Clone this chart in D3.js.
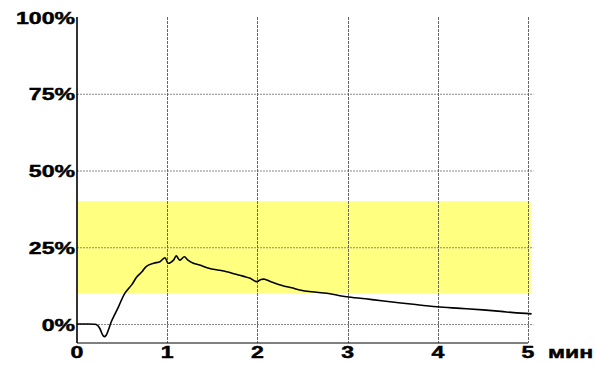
<!DOCTYPE html>
<html><head><meta charset="utf-8">
<script src="https://cdn.jsdelivr.net/npm/d3@7"></script>
<style>body{margin:0;background:#fff}svg{display:block}</style>
</head><body>
<svg id="c" width="596" height="365"></svg>
<script>
const timeMin = [0,0.1,0.2,0.22,0.25,0.28,0.30,0.32,0.35,0.38,0.46,0.53,0.61,0.66,0.72,0.77,0.85,0.92,0.976,1.01,1.07,1.10,1.14,1.19,1.23,1.29,1.36,1.47,1.56,1.66,1.75,1.84,1.92,1.99,2.04,2.08,2.15,2.29,2.38,2.47,2.6,2.77,2.9,2.99,3.2,3.4,3.7,3.99,4.25,4.5,4.7,4.84,5.04];
const valuePct = [0,0,-0.1,-0.3,-1.3,-3.3,-4.1,-3.8,-1.8,0.75,5.6,10,12.9,15.2,17,18.8,19.8,20.3,21.6,19.8,20.8,22.2,20.8,21.9,20.8,19.8,19.2,18.1,17.6,17,16.3,15.6,14.9,13.8,14.5,14.6,13.8,12.4,11.8,11.1,10.5,10,9.3,8.9,8.2,7.5,6.5,5.6,5.1,4.6,4.1,3.7,3.3];
const bandRange = [10, 40];
const yTicks = [0, 25, 50, 75, 100];
const yTickLabels = ["0%", "25%", "50%", "75%", "100%"];
const xTicks = [0, 1, 2, 3, 4, 5];
const xUnit = "мин";

const svg = d3.select("#c");
const x = d3.scaleLinear().domain([0, 5]).range([77, 528]);
const y = d3.scaleLinear().domain([0, 100]).range([324, 17]);
const yBottom = 343;
const font = "'Liberation Sans', Arial, sans-serif";

svg.append("rect")
  .attr("x", x(0)).attr("width", x(5.03) - x(0))
  .attr("y", y(bandRange[1])).attr("height", y(bandRange[0]) - y(bandRange[1]))
  .attr("fill", "#ffff80");

svg.selectAll(".hg").data(yTicks.filter(d => d < 100)).enter().append("line")
  .attr("x1", x(0)).attr("x2", x(5.06))
  .attr("y1", d => y(d) + 0.5).attr("y2", d => y(d) + 0.5)
  .attr("stroke", "#888").attr("stroke-width", 1).attr("stroke-dasharray", "2,1");

svg.selectAll(".vg").data(xTicks.filter(d => d > 0)).enter().append("line")
  .attr("x1", d => Math.round(x(d)) + 0.5).attr("x2", d => Math.round(x(d)) + 0.5)
  .attr("y1", y(100)).attr("y2", yBottom)
  .attr("stroke", "#666").attr("stroke-width", 1).attr("stroke-dasharray", "3,1");

svg.append("line").attr("x1", x(0)).attr("x2", x(0)).attr("y1", y(100)).attr("y2", yBottom)
  .attr("stroke", "#000").attr("stroke-width", 1.6);
svg.append("line").attr("x1", x(0)).attr("x2", x(5)).attr("y1", yBottom).attr("y2", yBottom)
  .attr("stroke", "#000").attr("stroke-width", 1);

const pts = timeMin.map((t, i) => [t, valuePct[i]]);
svg.append("path").datum(pts)
  .attr("d", d3.line().x(d => x(d[0])).y(d => y(d[1])).curve(d3.curveCatmullRom.alpha(0.5)))
  .attr("fill", "none").attr("stroke", "#000").attr("stroke-width", 1.6);

function lbl(sel) {
  return sel.attr("font-family", font).attr("font-weight", "bold").attr("font-size", 16.5)
    .attr("stroke", "#000").attr("stroke-width", 0.45);
}

lbl(svg.selectAll(".yl").data(yTicks).enter().append("text")
  .attr("transform", d => `translate(75,${y(d) + 6.5}) scale(1.4,1)`)
  .attr("text-anchor", "end"))
  .text((d, i) => yTickLabels[i]);

lbl(svg.selectAll(".xl").data(xTicks).enter().append("text")
  .attr("transform", d => `translate(${x(d)},358) scale(1.4,1)`)
  .attr("text-anchor", "middle"))
  .text(d => d);

lbl(svg.append("text")
  .attr("transform", `translate(548,358) scale(1.4,1)`))
  .text(xUnit);
</script>
</body></html>
